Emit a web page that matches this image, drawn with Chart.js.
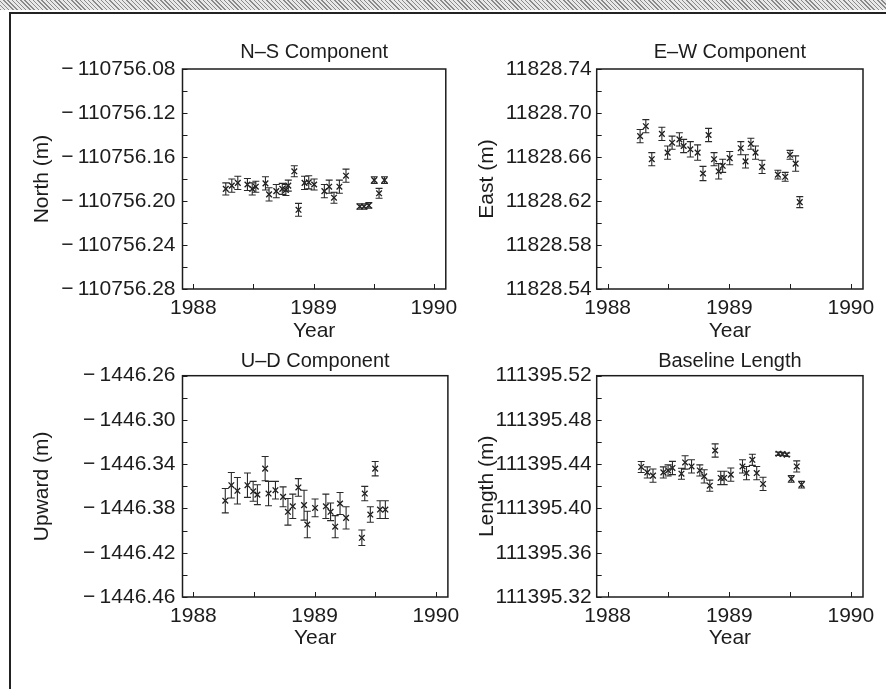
<!DOCTYPE html>
<html>
<head>
<meta charset="utf-8">
<script src="https://cdn.jsdelivr.net/npm/chart.js@4.4.1/dist/chart.umd.min.js"></script>
<style>
  body { margin: 0; background: #fff; width: 886px; height: 689px; overflow: hidden; position: relative; }
  #hatch { position: absolute; left: 0; top: 0; width: 886px; height: 10px;
    background: repeating-linear-gradient(45deg, #8a8a8a 0 1px, #e8e8e8 1px 3px); }
  #frame { position: absolute; left: 9px; top: 12px; width: 877px; height: 677px;
    border-left: 2px solid #222; border-top: 2px solid #222; box-sizing: border-box; }
  canvas { position: absolute; }
</style>
</head>
<body>
<div id="hatch"></div>
<div id="frame"></div>
<canvas id="ns" width="465" height="320" style="left:0;top:30px"></canvas>
<canvas id="ew" width="436" height="320" style="left:450px;top:30px"></canvas>
<canvas id="ud" width="467" height="323" style="left:0;top:335px"></canvas>
<canvas id="bl" width="436" height="323" style="left:450px;top:335px"></canvas>
<script>
// x axis (decimal year)
const yearTicks = [1988, 1988.5, 1989, 1989.5, 1990];

// N-S component
const nsTicks = [-110756.08, -110756.12, -110756.16, -110756.20, -110756.24, -110756.28];
const nsYear = [1988.27, 1988.32, 1988.37, 1988.45, 1988.49, 1988.52, 1988.60, 1988.63, 1988.69, 1988.74,
  1988.77, 1988.79, 1988.84, 1988.875, 1988.925, 1988.96, 1989.005, 1989.09, 1989.13, 1989.17,
  1989.215, 1989.27, 1989.385, 1989.42, 1989.46, 1989.505, 1989.545, 1989.59];
const nsVal = [-110756.189, -110756.186, -110756.1835, -110756.185, -110756.189, -110756.187, -110756.184,
  -110756.194, -110756.191, -110756.189, -110756.190, -110756.186, -110756.173, -110756.208, -110756.1835,
  -110756.183, -110756.185, -110756.191, -110756.187, -110756.197, -110756.187, -110756.177, -110756.205,
  -110756.205, -110756.204, -110756.181, -110756.193, -110756.181];
const nsErr = [0.0055, 0.006, 0.006, 0.0055, 0.0055, 0.005, 0.006, 0.006, 0.006, 0.005, 0.005, 0.005, 0.005,
  0.0058, 0.006, 0.006, 0.005, 0.006, 0.006, 0.005, 0.006, 0.006, 0.0025, 0.0025, 0.0025, 0.003, 0.0045, 0.003];

// E-W component
const ewTicks = [11828.74, 11828.70, 11828.66, 11828.62, 11828.58, 11828.54];
const ewYear = [1988.267, 1988.314, 1988.363, 1988.446, 1988.493, 1988.53, 1988.59, 1988.625, 1988.68, 1988.74,
  1988.784, 1988.83, 1988.875, 1988.913, 1988.946, 1989.004, 1989.095, 1989.134, 1989.178, 1989.216,
  1989.27, 1989.40, 1989.46, 1989.50, 1989.546, 1989.58];
const ewVal = [11828.679, 11828.688, 11828.658, 11828.681, 11828.664, 11828.673, 11828.676, 11828.670,
  11828.667, 11828.664, 11828.645, 11828.680, 11828.658, 11828.647, 11828.652, 11828.659, 11828.668,
  11828.656, 11828.672, 11828.664, 11828.651, 11828.644, 11828.642, 11828.662, 11828.654, 11828.619];
const ewErr = [0.006, 0.006, 0.006, 0.006, 0.006, 0.006, 0.006, 0.006, 0.007, 0.007, 0.0065, 0.006, 0.006,
  0.007, 0.006, 0.006, 0.006, 0.006, 0.005, 0.006, 0.006, 0.004, 0.004, 0.004, 0.007, 0.005];

// U-D component
const udTicks = [-1446.26, -1446.30, -1446.34, -1446.38, -1446.42, -1446.46];
const udYear = [1988.263, 1988.313, 1988.363, 1988.446, 1988.493, 1988.528, 1988.592, 1988.62, 1988.677,
  1988.74, 1988.78, 1988.82, 1988.866, 1988.913, 1988.94, 1989.004, 1989.093, 1989.132, 1989.17, 1989.21,
  1989.26, 1989.39, 1989.414, 1989.46, 1989.50, 1989.54, 1989.584];
const udVal = [-1446.373, -1446.359, -1446.364, -1446.359, -1446.3645, -1446.3675, -1446.344, -1446.3665,
  -1446.3635, -1446.3695, -1446.383, -1446.378, -1446.361, -1446.377, -1446.3945, -1446.3795, -1446.378,
  -1446.383, -1446.3965, -1446.3755, -1446.3885, -1446.4065, -1446.3665, -1446.3855, -1446.344,
  -1446.381, -1446.381];
const udErr = [0.011, 0.0115, 0.012, 0.011, 0.009, 0.009, 0.011, 0.011, 0.008, 0.009, 0.012, 0.011, 0.008,
  0.0135, 0.012, 0.008, 0.011, 0.008, 0.01, 0.01, 0.01, 0.007, 0.0065, 0.007, 0.0065, 0.008, 0.008];

// Baseline length
const blTicks = [111395.52, 111395.48, 111395.44, 111395.40, 111395.36, 111395.32];
const blYear = [1988.276, 1988.326, 1988.373, 1988.458, 1988.497, 1988.533, 1988.607, 1988.637, 1988.69,
  1988.758, 1988.794, 1988.84, 1988.884, 1988.93, 1988.958, 1989.013, 1989.109, 1989.142, 1989.19,
  1989.226, 1989.278, 1989.405, 1989.438, 1989.473, 1989.51, 1989.555, 1989.595];
const blVal = [111395.4375, 111395.4326, 111395.4297, 111395.4326, 111395.4344, 111395.4366, 111395.4314,
  111395.4416, 111395.438, 111395.4344, 111395.429, 111395.4206, 111395.4524, 111395.4276, 111395.4276,
  111395.4306, 111395.438, 111395.432, 111395.444, 111395.432, 111395.4222, 111395.4495, 111395.4492,
  111395.4486, 111395.4267, 111395.438, 111395.4215];
const blErr = [0.005, 0.005, 0.006, 0.005, 0.005, 0.006, 0.005, 0.006, 0.006, 0.005, 0.006, 0.005, 0.006,
  0.006, 0.006, 0.006, 0.006, 0.006, 0.005, 0.006, 0.006, 0.0015, 0.0015, 0.0015, 0.003, 0.005, 0.003];

const INK = '#1c1c1c';
const FONT = 'Liberation Sans, Arial, Helvetica, sans-serif';

function fmtTick(v) {
  // minus sign set apart from the digits, as in the original figure
  return v < 0 ? '\u2212\u2009' + Math.abs(v).toFixed(2) : v.toFixed(2);
}

// plot box plus inward major/minor tick marks
const framePlugin = {
  id: 'frame',
  afterDraw(chart) {
    const { ctx, chartArea: a } = chart;
    const { x, y } = chart.scales;
    ctx.save();
    ctx.strokeStyle = INK;
    ctx.lineWidth = 1.5;
    ctx.strokeRect(a.left, a.top, a.right - a.left, a.bottom - a.top);
    ctx.lineWidth = 1;
    ctx.beginPath();
    x.ticks.forEach(t => {
      const px = Math.round(x.getPixelForValue(t.value)) + 0.5;
      ctx.moveTo(px, a.bottom);
      ctx.lineTo(px, a.bottom - 5);
    });
    y.ticks.forEach(t => {
      const py = Math.round(y.getPixelForValue(t.value)) + 0.5;
      ctx.moveTo(a.left, py);
      ctx.lineTo(a.left + 5, py);
    });
    ctx.stroke();
    ctx.restore();
  }
};

const errorBarPlugin = {
  id: 'errbars',
  afterDatasetsDraw(chart) {
    const { ctx } = chart;
    const { x, y } = chart.scales;
    const ds = chart.data.datasets[0];
    ctx.save();
    ctx.strokeStyle = '#2a2a2a';
    ctx.lineWidth = 1.1;
    ctx.beginPath();
    ds.data.forEach((p, i) => {
      const px = x.getPixelForValue(p.x);
      const top = y.getPixelForValue(p.y + ds.err[i]);
      const bot = y.getPixelForValue(p.y - ds.err[i]);
      ctx.moveTo(px, top);
      ctx.lineTo(px, bot);
      ctx.moveTo(px - 3.5, top);
      ctx.lineTo(px + 3.5, top);
      ctx.moveTo(px - 3.5, bot);
      ctx.lineTo(px + 3.5, bot);
    });
    ctx.stroke();
    ctx.restore();
  }
};

function makePanel(id, cfg) {
  const majors = cfg.ticks;
  const yTicks = [];
  majors.forEach((v, i) => {
    yTicks.push({ value: v, lbl: fmtTick(v) });
    if (i < majors.length - 1) yTicks.push({ value: (v + majors[i + 1]) / 2, lbl: '' });
  });

  return new Chart(document.getElementById(id), {
    type: 'scatter',
    data: {
      datasets: [{
        data: cfg.year.map((t, i) => ({ x: t, y: cfg.val[i] })),
        err: cfg.err,
        pointStyle: 'crossRot',
        pointRadius: 4,
        borderWidth: 1.3,
        borderColor: INK,
        backgroundColor: INK
      }]
    },
    options: {
      responsive: false,
      animation: false,
      devicePixelRatio: 1,
      layout: { padding: { left: 0, right: cfg.padRight, top: 0, bottom: 0 } },
      plugins: {
        legend: { display: false },
        tooltip: { enabled: false },
        title: {
          display: true,
          fullSize: false,
          text: cfg.title,
          color: INK,
          font: { family: FONT, size: 20, weight: 'normal' },
          padding: { top: cfg.titleTop, bottom: cfg.titleBottom }
        }
      },
      scales: {
        x: {
          type: 'linear',
          min: 1987.91,
          max: 1990.1,
          afterBuildTicks: s => { s.ticks = yearTicks.map(v => ({ value: v })); },
          afterFit: s => { s.height = cfg.xHeight; },
          grid: { display: false, drawTicks: false },
          border: { display: false },
          ticks: {
            padding: 7,
            color: INK,
            autoSkip: false,
            maxRotation: 0,
            font: { family: FONT, size: 21 },
            callback: v => (Number.isInteger(v) ? String(v) : '')
          },
          title: {
            display: true,
            text: 'Year',
            color: INK,
            font: { family: FONT, size: 21 },
            padding: { top: 0, bottom: cfg.yearPad }
          }
        },
        y: {
          type: 'linear',
          min: Math.min(...majors),
          max: Math.max(...majors),
          afterBuildTicks: s => { s.ticks = yTicks.map(t => ({ ...t })); },
          afterFit: s => { s.width = cfg.yWidth; },
          grid: { display: false, drawTicks: false },
          border: { display: false },
          ticks: {
            padding: cfg.labelPad,
            color: INK,
            autoSkip: false,
            font: { family: FONT, size: 21 },
            callback: (v, i, ticks) => ticks[i].lbl
          },
          title: {
            display: true,
            text: cfg.axisTitle,
            color: INK,
            font: { family: FONT, size: 21 },
            padding: { top: cfg.axisTitlePad, bottom: 0 }
          }
        }
      }
    },
    plugins: [framePlugin, errorBarPlugin]
  });
}

makePanel('ns', {
  title: 'N\u2013S Component', axisTitle: 'North (m)', ticks: nsTicks,
  year: nsYear, val: nsVal, err: nsErr,
  yWidth: 182.5, padRight: 19, labelPad: 7, axisTitlePad: 30,
  titleTop: 10, titleBottom: 5, xHeight: 61, yearPad: 6
});
makePanel('ew', {
  title: 'E\u2013W Component', axisTitle: 'East (m)', ticks: ewTicks,
  year: ewYear, val: ewVal, err: ewErr,
  yWidth: 146.7, padRight: 23, labelPad: 5, axisTitlePad: 25,
  titleTop: 10, titleBottom: 5, xHeight: 61, yearPad: 6
});
makePanel('ud', {
  title: 'U\u2013D Component', axisTitle: 'Upward (m)', ticks: udTicks,
  year: udYear, val: udVal, err: udErr,
  yWidth: 182.5, padRight: 19, labelPad: 7, axisTitlePad: 30,
  titleTop: 14, titleBottom: 2.7, xHeight: 61, yearPad: 7
});
makePanel('bl', {
  title: 'Baseline Length', axisTitle: 'Length (m)', ticks: blTicks,
  year: blYear, val: blVal, err: blErr,
  yWidth: 146.7, padRight: 23, labelPad: 5, axisTitlePad: 25,
  titleTop: 14, titleBottom: 2.7, xHeight: 61, yearPad: 7
});
</script>
</body>
</html>
